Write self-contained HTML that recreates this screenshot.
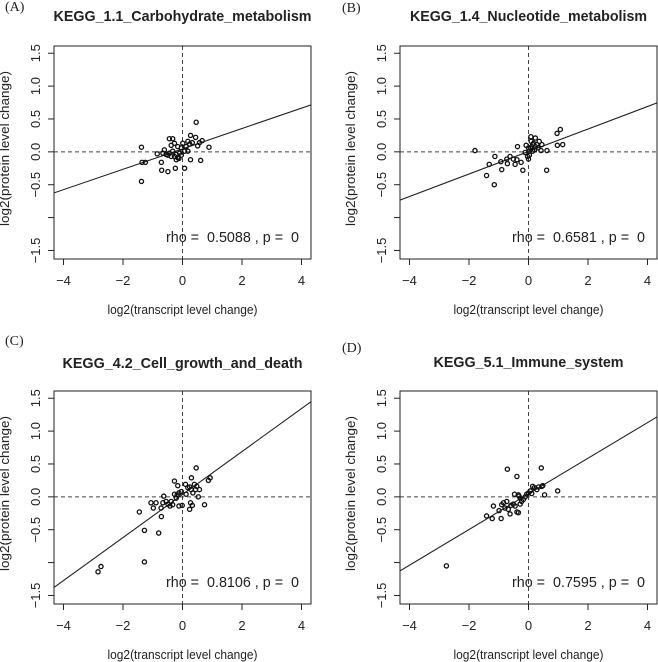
<!DOCTYPE html>
<html><head><meta charset="utf-8"><style>
html,body{margin:0;padding:0;background:#fff;}
svg{display:block;}
text{font-family:"Liberation Sans",Arial,sans-serif;fill:#222;}
.serif{font-family:"Liberation Serif","Times New Roman",serif;}
.pre{white-space:pre;}
</style></head><body>
<svg id="fig" width="658" height="662" viewBox="0 0 658 662"></svg>
<script>
// ---- data ----
const xTicks = [-4, -2, 0, 2, 4];
const yTicks = [-1.5, -1.0, -0.5, 0.0, 0.5, 1.0, 1.5];
const yTickLabels = ["\u22121.5", "", "\u22120.5", "0.0", "0.5", "1.0", "1.5"];
const xTickLabels = ["\u22124", "\u22122", "0", "2", "4"];
const titles = ["KEGG_1.1_Carbohydrate_metabolism","KEGG_1.4_Nucleotide_metabolism","KEGG_4.2_Cell_growth_and_death","KEGG_5.1_Immune_system"];
const panelLetters = ["(A)","(B)","(C)","(D)"];
const rhoValues = ["0.5088","0.6581","0.8106","0.7595"];
const pValues = ["0","0","0","0"];
const fitIntercepts = [0.045, 0.005, 0.035, 0.045];
const fitSlopes = [0.155, 0.171, 0.327, 0.271];

const aX = [-1.38,-1.36,-1.25,-1.38,-0.71,-0.70,-0.49,-0.85,-0.66,-0.61,-0.44,-0.33,-0.24,0.07,0.27,0.61,0.46,0.27,0.44,0.66,0.89,0.24,0.33,0.18,-0.38,-0.27,-0.16,-0.04,0.01,0.12,-0.44,-0.33,-0.21,-0.10,-0.27,-0.16,-0.04,-0.55,-0.49,0.07,0.18,-0.21,-0.12,-0.38,0.57,0.51];
const aY = [0.07,-0.16,-0.16,-0.45,-0.16,-0.28,-0.30,-0.03,-0.02,0.03,0.20,0.20,-0.25,-0.25,-0.12,-0.13,0.45,0.25,0.22,0.17,0.07,0.12,0.14,0.16,0.10,0.13,0.08,0.06,0.13,0.08,-0.02,0.01,-0.04,-0.02,-0.07,-0.09,-0.05,-0.04,-0.05,0.01,0.01,-0.12,-0.10,-0.07,0.14,0.09];

const bX = [-1.80,-1.13,-1.32,-1.41,-1.15,-0.90,-0.93,-0.73,-0.62,-0.71,-0.51,-0.45,-0.39,-0.37,-0.25,-0.19,-0.11,-0.03,0.00,0.03,-0.08,0.08,0.23,0.36,0.45,0.42,0.62,0.61,0.97,1.15,0.96,1.07,0.11,0.17,0.06,0.23,0.14,0.28,0.00,0.09,0.32,0.20,0.03,0.14];
const bY = [0.02,-0.07,-0.19,-0.36,-0.50,-0.27,-0.15,-0.11,-0.07,-0.18,-0.11,-0.19,-0.12,0.08,-0.16,-0.28,-0.01,-0.07,-0.11,-0.05,0.10,0.23,0.21,0.16,0.11,0.02,0.02,-0.28,0.10,0.11,0.28,0.34,0.08,0.13,0.06,0.08,0.01,0.11,0.06,0.16,0.06,0.03,0.01,0.11];

const cX = [-2.84,-2.74,-1.28,-1.45,-1.28,-0.80,-0.71,-1.06,-0.98,-0.89,-0.72,-0.66,-0.63,-0.55,-0.49,-0.42,-0.38,-0.33,-0.27,-0.21,-0.18,-0.12,-0.04,-0.16,-0.12,-0.01,-0.27,0.10,0.18,0.29,0.35,0.12,0.24,0.24,0.33,0.27,0.30,0.46,0.48,0.53,0.74,0.87,0.93,0.44,0.57,0.40];
const cY = [-1.14,-1.06,-0.99,-0.23,-0.51,-0.55,-0.30,-0.09,-0.17,-0.09,-0.17,-0.09,0.01,-0.07,-0.11,-0.14,-0.07,-0.12,0.04,-0.02,0.03,0.06,0.08,0.17,-0.14,-0.13,0.24,0.19,0.14,0.11,0.06,0.04,0.15,-0.19,-0.13,-0.09,0.29,0.44,0.16,0.00,-0.12,0.25,0.29,0.11,0.11,0.19];

const dX = [-2.76,-1.41,-1.22,-1.18,-0.92,-0.99,-0.90,-0.84,-0.79,-0.73,-0.68,-0.62,-0.59,-0.51,-0.45,-0.39,-0.34,-0.28,-0.71,-0.39,-0.47,-0.34,-0.28,-0.23,-0.17,-0.11,-0.06,0.00,0.06,0.11,0.14,0.20,0.28,0.34,0.45,0.48,0.54,0.43,0.98,-0.32];
const dY = [-1.05,-0.29,-0.33,-0.14,-0.33,-0.21,-0.12,-0.09,-0.17,-0.07,-0.19,-0.26,-0.13,-0.11,-0.14,-0.23,-0.24,-0.11,0.42,0.31,0.04,0.03,-0.02,-0.07,-0.04,0.00,0.04,0.06,0.09,0.05,0.16,0.14,0.11,0.15,0.16,0.17,0.03,0.44,0.09,0.01];

const seriesX = [aX, bX, cX, dX];
const seriesY = [aY, bY, cY, dY];

// ---- layout ----
const XMIN = -4.32, XMAX = 4.32, YMIN = -1.63, YMAX = 1.61;
const W = 257, H = 213;
const boxes = [{l:54,t:46},{l:400,t:46},{l:54,t:391},{l:400,t:391}];
const titleBase = [21, 21, 368, 367];
const titleLen = [258, 237, 240, 190];
const letterPos = [[5,11],[342,12],[5,345],[342,352]];

const NS = "http://www.w3.org/2000/svg";
const svg = document.getElementById("fig");
function mk(tag, attrs, parent, txt) {
  const e = document.createElementNS(NS, tag);
  for (const k in attrs) e.setAttribute(k, attrs[k]);
  if (txt !== undefined) e.textContent = txt;
  (parent || svg).appendChild(e);
  return e;
}

for (let p = 0; p < 4; p++) {
  const b = boxes[p];
  const sx = v => b.l + (v - XMIN) / (XMAX - XMIN) * W;
  const sy = v => b.t + (YMAX - v) / (YMAX - YMIN) * H;
  const g = mk("g", {});
  
  

  const lt = mk("text", {x: letterPos[p][0], y: letterPos[p][1], "font-size": 14, class: "serif"}, g, panelLetters[p]);
  
  

  const tt = mk("text", {x: sx(0), y: titleBase[p], "font-size": 15, "font-weight": "bold", "text-anchor": "middle", textLength: titleLen[p], lengthAdjust: "spacingAndGlyphs"}, g, titles[p]);
  
  

  const cp = "clip" + p;
  const cl = mk("clipPath", {id: cp}, g);
  mk("rect", {x: b.l, y: b.t, width: W, height: H}, cl);

  const vl = mk("line", {x1: sx(0), x2: sx(0), y1: b.t, y2: b.t + H, stroke: "#444", "stroke-width": 1, "stroke-dasharray": "4,3"}, g);
  
  
  const hl = mk("line", {x1: b.l, x2: b.l + W, y1: sy(0), y2: sy(0), stroke: "#444", "stroke-width": 1, "stroke-dasharray": "4,3"}, g);
  
  

  const fl = mk("line", {x1: sx(XMIN), y1: sy(fitIntercepts[p] + fitSlopes[p] * XMIN), x2: sx(XMAX), y2: sy(fitIntercepts[p] + fitSlopes[p] * XMAX), stroke: "#222", "stroke-width": 1.1, "clip-path": "url(#" + cp + ")"}, g);
  
  

  const X = seriesX[p], Y = seriesY[p];
  for (let i = 0; i < X.length; i++) {
    const c = mk("circle", {cx: sx(X[i]), cy: sy(Y[i]), r: 2.1, fill: "none", stroke: "#111", "stroke-width": 1.3}, g);
    
    
  }

  const bx = mk("rect", {x: b.l, y: b.t, width: W, height: H, fill: "none", stroke: "#222", "stroke-width": 1}, g);
  
  

  for (let i = 0; i < xTicks.length; i++) {
    const x = sx(xTicks[i]);
    const tk = mk("line", {x1: x, x2: x, y1: b.t + H, y2: b.t + H + 6, stroke: "#222"}, g);
    
    
    const tl = mk("text", {x: x, y: b.t + H + 26, "font-size": 13, "text-anchor": "middle"}, g, xTickLabels[i]);
    
    
  }
  for (let i = 0; i < yTicks.length; i++) {
    const y = sy(yTicks[i]);
    const tk = mk("line", {x1: b.l - 6, x2: b.l, y1: y, y2: y, stroke: "#222"}, g);
    
    
    if (yTickLabels[i]) {
      const tx = b.l - 14;
      const tl = mk("text", {x: tx, y: y, "font-size": 13, "text-anchor": "middle", transform: "rotate(-90 " + tx + " " + y + ")"}, g, yTickLabels[i]);
      
      
    }
  }
  const xt = mk("text", {x: sx(0), y: b.t + H + 55, "font-size": 13, "text-anchor": "middle", textLength: 150, lengthAdjust: "spacingAndGlyphs"}, g, "log2(transcript level change)");
  
  
  const yx = b.l - 45, yy = b.t + H / 2 - 4;
  const yt = mk("text", {x: yx, y: yy, "font-size": 13, "text-anchor": "middle", textLength: 155, lengthAdjust: "spacingAndGlyphs", transform: "rotate(-90 " + yx + " " + yy + ")"}, g, "log2(protein level change)");
  
  

  const rt = mk("text", {x: b.l + 245, y: b.t + H - 17, "font-size": 15, "text-anchor": "end", textLength: 133, lengthAdjust: "spacingAndGlyphs", class: "pre"}, g, "rho =  " + rhoValues[p] + " , p =  " + pValues[p]);
  
  
}
</script>
</body></html>
